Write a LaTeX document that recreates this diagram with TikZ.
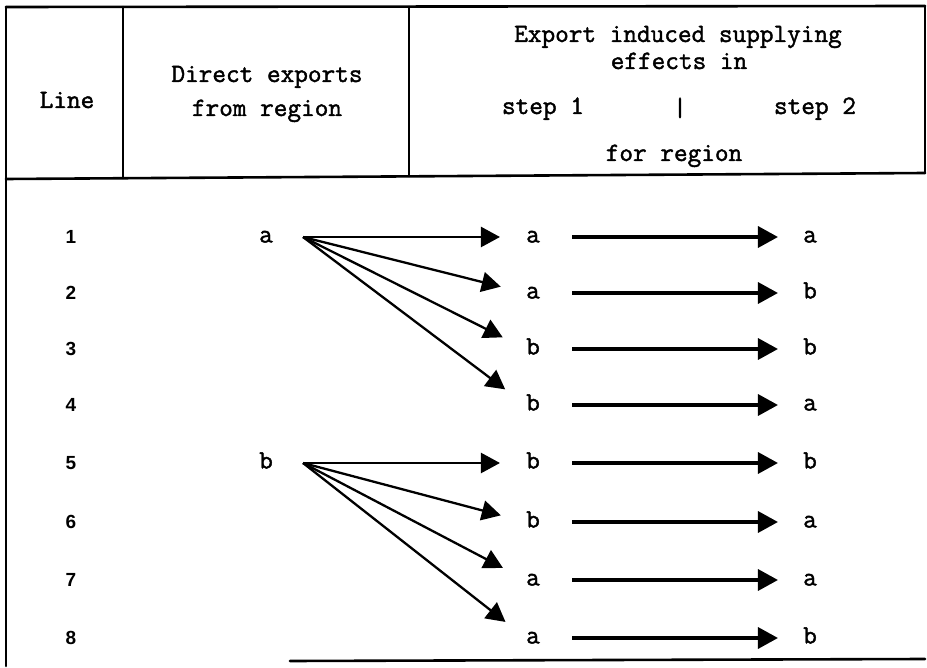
\documentclass[tikz,border=0pt]{standalone}
\usepackage{fontspec}
\newfontfamily\digitfont{Liberation Sans}
\newfontfamily\courfont{Latin Modern Mono}[FakeBold=1.6]
\usetikzlibrary{arrows.meta}
\begin{document}
\begin{tikzpicture}[x=1pt,y=-1pt,
  rule/.style={line width=2.6pt, line cap=round},
  hdr/.style={font=\fontsize{26.5}{30}\selectfont\courfont, inner sep=0pt, anchor=base},
  lab/.style={font=\fontsize{26.5}{30}\selectfont\courfont, inner sep=0pt, text height=11pt, text depth=0pt, anchor=center},
  num/.style={font=\fontsize{19}{21}\selectfont\digitfont\bfseries, inner sep=0pt, anchor=center},
  fan/.style={line width=2.3pt, -{Triangle[length=19pt,width=20pt]}, shorten >=26pt},
  steptwo/.style={line width=3.4pt, -{Triangle[length=20pt,width=21pt]}, shorten <=32pt, shorten >=25pt}
]
\useasboundingbox (0,0) rectangle (927,668);
% table rules
\draw[rule] (6,7) -- (925,6);
\draw[rule] (6,7) -- (6,666);
\draw[rule] (925,6) -- (925,173);
\draw[rule] (6,179) -- (925,173);
\draw[rule] (123,7) -- (123,178);
\draw[rule] (409,7) -- (409,176);
\draw[rule] (290,661) -- (925,659);
% header
\node[hdr] (hLine) at (67,108) {Line};
\node[hdr] (hDirA) at (267,82) {Direct exports};
\node[hdr] (hDirB) at (267,116) {from region};
\node[hdr] (hExpA) at (678,42) {Export induced supplying};
\node[hdr] (hExpB) at (679,69) {effects in};
\node[hdr] (hStepA) at (543,114) {step 1};
\node[hdr] (hBar) at (680,116) {|};
\node[hdr] (hStepB) at (815,114) {step 2};
\node[hdr] (hFor) at (674,161) {for region};
% row numbers
\foreach \i/\y in {1/237,2/293,3/349,4/405,5/463,6/522,7/580,8/638}
  \node[num] (n\i) at (71,\y) {\i};
% source letters
\node[lab] (sA) at (266,237) {a};
\node[lab] (sB) at (266,463) {b};
\coordinate (oA) at (303,237);
\coordinate (oB) at (303,463);
% step 1 and step 2 letters
\foreach \i/\y/\p/\q in {1/237/a/a,2/293/a/b,3/349/b/b,4/405/b/a,5/463/b/b,6/522/b/a,7/580/a/a,8/638/a/b}{
  \node[lab] (t\i) at (533,\y) {\p};
  \node[lab] (u\i) at (810,\y) {\q};
  \draw[steptwo] (t\i.east) -- (u\i.west);
}
\foreach \i in {1,2,3,4} \draw[fan] (oA) -- (t\i.west);
\foreach \i in {5,6,7,8} \draw[fan] (oB) -- (t\i.west);
\end{tikzpicture}
\end{document}
